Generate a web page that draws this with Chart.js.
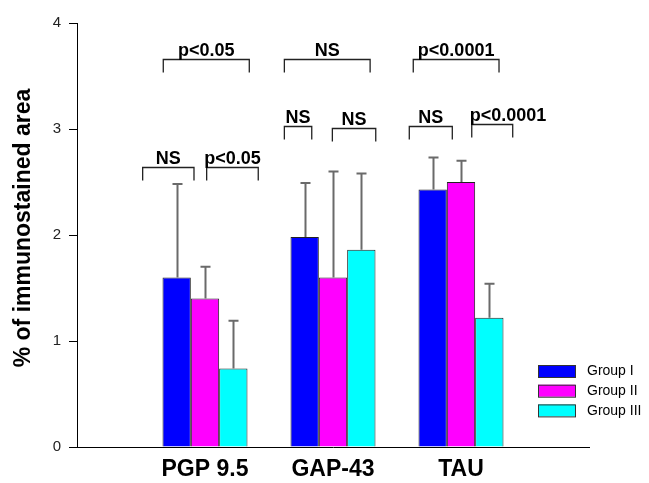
<!DOCTYPE html>
<html>
<head>
<meta charset="utf-8">
<script src="https://cdn.jsdelivr.net/npm/chart.js@4.4.0/dist/chart.umd.min.js"></script>
<style>
  html, body { margin: 0; padding: 0; background: #fff; }
  #wrap { width: 649px; height: 483px; }
</style>
</head>
<body>
<div id="wrap"><canvas id="chart"></canvas></div>
<script>
// DATA
const categories = ['', 'PGP 9.5', 'GAP-43', 'TAU', ''];
const groupNames = ['Group I', 'Group II', 'Group III'];
const groupI   = [null, 1.60, 1.98, 2.43, null];
const groupII  = [null, 1.40, 1.60, 2.50, null];
const groupIII = [null, 0.74, 1.86, 1.22, null];
// standard deviations (upper whisker only)
const sdI   = [null, 0.88, 0.51, 0.30, null];
const sdII  = [null, 0.30, 1.00, 0.20, null];
const sdIII = [null, 0.45, 0.72, 0.32, null];
const yTicks = [0, 1, 2, 3, 4];

// significance brackets, x in category units, y in data units
const brackets = [
    { x1: 0.674, x2: 1.346, y: 3.66, label: 'p<0.05' },
    { x1: 1.620, x2: 2.290, y: 3.66, label: 'NS' },
    { x1: 2.627, x2: 3.297, y: 3.66, label: 'p<0.0001' },
    { x1: 0.513, x2: 0.914, y: 2.645, label: 'NS' },
    { x1: 1.013, x2: 1.416, y: 2.645, label: 'p<0.05' },
    { x1: 1.620, x2: 1.834, y: 3.03, label: 'NS' },
    { x1: 1.995, x2: 2.334, y: 3.01, label: 'NS' },
    { x1: 2.596, x2: 2.932, y: 3.03, label: 'NS' },
    { x1: 3.084, x2: 3.404, y: 3.05, label: 'p<0.0001', labelX: 3.367 }
];

const THEME = {
    colors: ['#0000ff', '#ff00ff', '#00ffff'],
    border: '#222222',
    whisker: '#6a6a6a',
    ink: '#000000',
    font: '"Liberation Sans", Arial, sans-serif'
};

const sds = [sdI, sdII, sdIII];

// whiskers, brackets, legend and y title
const extras = {
    id: 'extras',
    afterDatasetsDraw(chart) {
        const { ctx } = chart;
        const xs = chart.scales.x, ys = chart.scales.y;
        ctx.save();

        // error bars
        ctx.strokeStyle = THEME.whisker;
        ctx.lineWidth = 2;
        chart.data.datasets.forEach((ds, di) => {
            const meta = chart.getDatasetMeta(di);
            meta.data.forEach((bar, i) => {
                if (ds.data[i] == null) return;
                const top = ys.getPixelForValue(ds.data[i] + sds[di][i]);
                const x = Math.round(bar.x) + 0.5;
                ctx.beginPath();
                ctx.moveTo(x, bar.y);
                ctx.lineTo(x, top);
                ctx.moveTo(x - 5, top);
                ctx.lineTo(x + 5, top);
                ctx.stroke();
            });
        });

        // brackets
        ctx.strokeStyle = '#222';
        ctx.lineWidth = 1.3;
        ctx.fillStyle = THEME.ink;
        ctx.font = 'bold 18px ' + THEME.font;
        ctx.textAlign = 'center';
        ctx.textBaseline = 'alphabetic';
        brackets.forEach(b => {
            const x1 = xs.getPixelForValue(b.x1);
            const x2 = xs.getPixelForValue(b.x2);
            const y = Math.round(ys.getPixelForValue(b.y)) + 0.5;
            ctx.beginPath();
            ctx.moveTo(x1, y + 13);
            ctx.lineTo(x1, y);
            ctx.lineTo(x2, y);
            ctx.lineTo(x2, y + 13);
            ctx.stroke();
            const lx = b.labelX != null ? xs.getPixelForValue(b.labelX) : (x1 + x2) / 2;
            ctx.fillText(b.label, lx, y - 4);
        });

        // legend
        ctx.font = '14px ' + THEME.font;
        ctx.textAlign = 'left';
        ctx.textBaseline = 'middle';
        ctx.lineWidth = 1;
        chart.data.datasets.forEach((ds, di) => {
            const top = 365 + di * 19.7;
            ctx.fillStyle = ds.backgroundColor;
            ctx.fillRect(538, top, 37, 12);
            ctx.strokeStyle = '#333';
            ctx.strokeRect(538.5, top + 0.5, 37, 12);
            ctx.fillStyle = THEME.ink;
            ctx.fillText(ds.label, 587, top + 6.5);
        });

        // y title
        ctx.font = 'bold 23px ' + THEME.font;
        ctx.textAlign = 'center';
        ctx.textBaseline = 'middle';
        ctx.translate(24, 228);
        ctx.rotate(-Math.PI / 2);
        ctx.fillText('% of immunostained area', 0, 0);
        ctx.restore();
    }
};

const seriesData = [groupI, groupII, groupIII];

new Chart(document.getElementById('chart'), {
    type: 'bar',
    data: {
        labels: categories,
        datasets: seriesData.map((d, i) => ({
            label: groupNames[i],
            data: d,
            backgroundColor: THEME.colors[i],
            borderColor: THEME.border,
            borderWidth: 1,
            borderSkipped: 'bottom',
            categoryPercentage: 0.664,
            barPercentage: 1
        }))
    },
    options: {
        responsive: true,
        maintainAspectRatio: false,
        animation: false,
        layout: { padding: { top: 23, right: 60, left: 0, bottom: 0 } },
        scales: {
            x: {
                offset: false,
                grid: { display: true, drawOnChartArea: false, drawTicks: false, offset: false },
                border: { color: THEME.ink, width: 1 },
                ticks: {
                    color: THEME.ink,
                    padding: 9,
                    maxRotation: 0,
                    autoSkip: false,
                    font: { family: THEME.font, size: 23, weight: 'bold' }
                },
                afterFit: s => { s.height = 36; }
            },
            y: {
                min: 0,
                max: 4,
                afterBuildTicks: s => { s.ticks = yTicks.map(v => ({ value: v })); },
                grid: { drawOnChartArea: false, tickLength: 8, color: THEME.ink },
                border: { color: THEME.ink, width: 1 },
                ticks: {
                    color: '#222',
                    padding: 8,
                    font: { family: THEME.font, size: 15 }
                },
                afterFit: s => { s.width = 77; }
            }
        },
        plugins: {
            legend: { display: false },
            tooltip: { enabled: false }
        }
    },
    plugins: [extras]
});
</script>
</body>
</html>
